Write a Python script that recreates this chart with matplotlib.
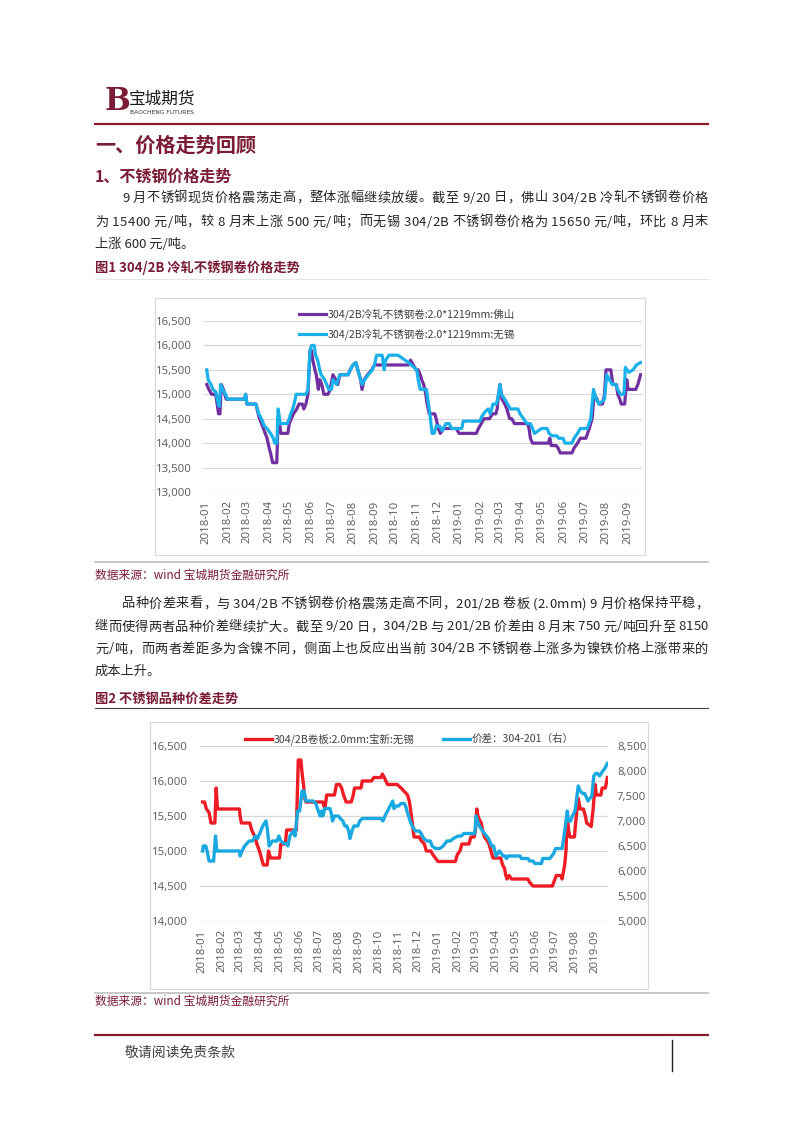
import numpy as np
import pandas as pd
import matplotlib
matplotlib.use("Agg")
import matplotlib.pyplot as plt
from matplotlib.lines import Line2D
from matplotlib.patches import Rectangle
from matplotlib.ticker import FuncFormatter
from matplotlib.font_manager import FontProperties

plt.rcParams["font.family"] = ["Noto Sans CJK SC", "DejaVu Sans"]

W, H = 802, 1133
MAROON = "#7A1C35"
LINE_RED = "#8B1C2C"
TEXT = "#262626"
TICK = "#595959"
GRID = "#D9D9D9"
PURPLE = "#7030A0"
CYAN = "#1AB0EA"
RED = "#EE1C25"
BLUE = "#1AA8E0"

# ---- figure 1: 304/2B cold rolled coil, Foshan vs Wuxi
fs_dates = ["2018-01-02", "2018-01-05", "2018-01-09", "2018-01-15", "2018-01-17", "2018-01-19",
            "2018-01-21", "2018-01-23", "2018-01-26", "2018-01-30", "2018-02-26", "2018-02-27",
            "2018-03-01", "2018-03-14", "2018-03-18", "2018-03-22", "2018-03-26", "2018-03-30",
            "2018-04-02", "2018-04-04", "2018-04-07", "2018-04-13", "2018-04-15", "2018-04-17",
            "2018-04-19", "2018-04-29", "2018-05-01", "2018-05-04", "2018-05-07", "2018-05-12",
            "2018-05-15", "2018-05-20", "2018-05-22", "2018-05-25", "2018-05-28", "2018-05-31",
            "2018-06-02", "2018-06-04", "2018-06-07", "2018-06-09", "2018-06-12", "2018-06-14",
            "2018-06-17", "2018-06-20", "2018-06-26", "2018-06-29", "2018-07-03", "2018-07-07",
            "2018-07-10", "2018-07-13", "2018-07-25", "2018-07-28", "2018-08-01", "2018-08-05",
            "2018-08-08", "2018-08-12", "2018-08-14", "2018-08-17", "2018-08-22", "2018-08-28",
            "2018-09-01", "2018-10-20", "2018-10-23", "2018-10-27", "2018-10-31", "2018-11-03",
            "2018-11-06", "2018-11-08", "2018-11-11", "2018-11-14", "2018-11-16", "2018-11-19",
            "2018-11-27", "2018-11-29", "2018-12-02", "2018-12-05", "2018-12-10", "2018-12-28",
            "2019-01-01", "2019-01-26", "2019-01-29", "2019-02-02", "2019-02-06", "2019-02-14",
            "2019-02-18", "2019-02-23", "2019-02-25", "2019-02-27", "2019-03-01", "2019-03-04",
            "2019-03-08", "2019-03-11", "2019-03-15", "2019-03-18", "2019-03-22", "2019-04-10",
            "2019-04-12", "2019-04-14", "2019-04-17", "2019-05-10", "2019-05-12", "2019-05-14",
            "2019-05-21", "2019-05-24", "2019-05-27", "2019-06-13", "2019-06-16", "2019-06-21",
            "2019-06-25", "2019-07-03", "2019-07-08", "2019-07-12", "2019-07-15", "2019-07-19",
            "2019-07-22", "2019-07-27", "2019-07-30", "2019-08-01", "2019-08-08", "2019-08-11",
            "2019-08-16", "2019-08-18", "2019-08-21", "2019-08-23", "2019-08-28", "2019-08-31",
            "2019-09-02", "2019-09-13", "2019-09-16", "2019-09-20"]
fs_vals = [15200, 15100, 15000, 15000, 14800, 14600,
           14600, 15200, 15100, 14900, 14900, 15000,
           14800, 14800, 14550, 14400, 14250, 14100,
           13900, 13800, 13600, 13600, 14500, 14400,
           14200, 14200, 14400, 14500, 14600, 14700,
           14800, 14800, 14700, 14800, 15000, 15900,
           15900, 15700, 15500, 15400, 15100, 15300,
           15200, 15000, 15000, 15100, 15400, 15300,
           15200, 15400, 15400, 15500, 15600, 15650,
           15500, 15300, 15100, 15300, 15400, 15500,
           15600, 15600, 15700, 15600, 15500, 15500,
           15400, 15300, 15200, 15000, 14800, 14600,
           14600, 14500, 14300, 14200, 14300, 14300,
           14200, 14200, 14300, 14400, 14500, 14500,
           14600, 14600, 14700, 15000, 15200, 14900,
           14800, 14700, 14500, 14500, 14400, 14400,
           14300, 14100, 14000, 14000, 14100, 13950,
           13950, 13900, 13800, 13800, 13900, 14000,
           14100, 14100, 14300, 14500, 15000, 14900,
           14800, 14800, 15000, 15500, 15500, 15200,
           15200, 15000, 14900, 14800, 14800, 15300,
           15100, 15100, 15200, 15400]

wx_dates = ["2018-01-02", "2018-01-04", "2018-01-08", "2018-01-11", "2018-01-15", "2018-01-18",
            "2018-01-20", "2018-01-22", "2018-01-25", "2018-01-29", "2018-02-01", "2018-02-26",
            "2018-02-27", "2018-03-01", "2018-03-14", "2018-03-18", "2018-03-22", "2018-03-26",
            "2018-03-30", "2018-04-04", "2018-04-08", "2018-04-10", "2018-04-13", "2018-04-15",
            "2018-04-18", "2018-04-28", "2018-05-01", "2018-05-03", "2018-05-06", "2018-05-08",
            "2018-05-11", "2018-05-25", "2018-05-28", "2018-05-31", "2018-06-02", "2018-06-06",
            "2018-06-08", "2018-06-11", "2018-06-14", "2018-06-16", "2018-06-21", "2018-06-27",
            "2018-07-01", "2018-07-03", "2018-07-08", "2018-07-13", "2018-07-25", "2018-07-28",
            "2018-08-01", "2018-08-05", "2018-08-08", "2018-08-12", "2018-08-14", "2018-08-18",
            "2018-08-23", "2018-08-29", "2018-09-01", "2018-09-04", "2018-09-12", "2018-09-15",
            "2018-09-17", "2018-09-22", "2018-10-05", "2018-10-10", "2018-10-15", "2018-10-20",
            "2018-10-24", "2018-10-28", "2018-11-01", "2018-11-03", "2018-11-06", "2018-11-15",
            "2018-11-17", "2018-11-20", "2018-11-23", "2018-11-26", "2018-11-29", "2018-12-04",
            "2018-12-08", "2018-12-13", "2018-12-18", "2018-12-21", "2019-01-05", "2019-01-07",
            "2019-01-31", "2019-02-03", "2019-02-08", "2019-02-12", "2019-02-15", "2019-02-19",
            "2019-02-24", "2019-02-27", "2019-03-01", "2019-03-03", "2019-03-08", "2019-03-12",
            "2019-03-16", "2019-03-27", "2019-03-30", "2019-04-04", "2019-04-09", "2019-04-14",
            "2019-04-17", "2019-04-20", "2019-04-25", "2019-04-30", "2019-05-08", "2019-05-11",
            "2019-05-15", "2019-05-22", "2019-05-25", "2019-05-31", "2019-06-03", "2019-06-13",
            "2019-06-16", "2019-06-21", "2019-06-25", "2019-07-05", "2019-07-10", "2019-07-14",
            "2019-07-18", "2019-07-22", "2019-07-30", "2019-08-02", "2019-08-06", "2019-08-10",
            "2019-08-15", "2019-08-18", "2019-08-22", "2019-08-27", "2019-08-29", "2019-09-03",
            "2019-09-09", "2019-09-14", "2019-09-20"]
wx_vals = [15500, 15300, 15200, 15100, 15050, 14850,
           14750, 15200, 15100, 15000, 14900, 14900,
           15000, 14800, 14800, 14600, 14500, 14350,
           14300, 14200, 14100, 14000, 14000, 14700,
           14400, 14400, 14500, 14600, 14700, 14800,
           15000, 15000, 15100, 15900, 16000, 16000,
           15800, 15700, 15500, 15400, 15300, 15100,
           15100, 15300, 15200, 15400, 15400, 15500,
           15600, 15650, 15500, 15300, 15200, 15300,
           15400, 15500, 15600, 15800, 15800, 15500,
           15700, 15800, 15800, 15750, 15700, 15650,
           15600, 15550, 15500, 15300, 15100, 15100,
           14900, 14600, 14200, 14200, 14350, 14350,
           14250, 14400, 14400, 14300, 14300, 14450,
           14450, 14550, 14650, 14700, 14600, 14800,
           14800, 15000, 15200, 15000, 14900, 14800,
           14700, 14700, 14600, 14500, 14400, 14400,
           14300, 14200, 14250, 14300, 14300, 14200,
           14150, 14150, 14100, 14100, 14000, 14000,
           14100, 14200, 14300, 14300, 14500, 15100,
           14900, 14800, 14900, 15400, 15300, 15200,
           15200, 15100, 15000, 15000, 15550, 15450,
           15500, 15600, 15650]

# ---- figure 2: 304/2B Baoxin Wuxi (left) and 304-201 spread (right)
bx_dates = ["2018-01-02", "2018-01-05", "2018-01-08", "2018-01-12", "2018-01-15", "2018-01-21",
            "2018-01-23", "2018-01-25", "2018-02-28", "2018-03-01", "2018-03-03", "2018-03-16",
            "2018-03-19", "2018-03-24", "2018-03-27", "2018-03-31", "2018-04-03", "2018-04-06",
            "2018-04-12", "2018-04-14", "2018-04-17", "2018-05-01", "2018-05-03", "2018-05-10",
            "2018-05-12", "2018-05-27", "2018-05-30", "2018-06-03", "2018-06-05", "2018-06-07",
            "2018-06-09", "2018-06-11", "2018-07-07", "2018-07-10", "2018-07-13", "2018-07-25",
            "2018-07-28", "2018-08-02", "2018-08-05", "2018-08-08", "2018-08-12", "2018-08-20",
            "2018-08-23", "2018-08-25", "2018-09-04", "2018-09-06", "2018-09-20", "2018-09-24",
            "2018-10-05", "2018-10-07", "2018-10-10", "2018-10-15", "2018-10-30", "2018-11-05",
            "2018-11-10", "2018-11-15", "2018-11-18", "2018-11-21", "2018-11-25", "2018-12-03",
            "2018-12-06", "2018-12-11", "2018-12-14", "2018-12-21", "2018-12-24", "2018-12-28",
            "2019-01-01", "2019-01-28", "2019-01-31", "2019-02-04", "2019-02-07", "2019-02-18",
            "2019-02-21", "2019-02-26", "2019-02-28", "2019-03-02", "2019-03-04", "2019-03-06",
            "2019-03-09", "2019-03-11", "2019-03-14", "2019-03-18", "2019-03-21", "2019-03-24",
            "2019-03-27", "2019-04-08", "2019-04-11", "2019-04-14", "2019-04-16", "2019-04-18",
            "2019-04-21", "2019-04-25", "2019-05-20", "2019-05-23", "2019-05-28", "2019-06-27",
            "2019-06-29", "2019-07-01", "2019-07-03", "2019-07-10", "2019-07-12", "2019-07-14",
            "2019-07-16", "2019-07-18", "2019-07-20", "2019-07-22", "2019-07-24", "2019-07-31",
            "2019-08-03", "2019-08-06", "2019-08-09", "2019-08-14", "2019-08-17", "2019-08-19",
            "2019-08-26", "2019-08-29", "2019-09-01", "2019-09-03", "2019-09-10", "2019-09-12",
            "2019-09-17", "2019-09-20"]
bx_vals = [15700, 15700, 15600, 15550, 15400, 15400,
           15900, 15600, 15600, 15500, 15400, 15400,
           15300, 15200, 15100, 15000, 14900, 14800,
           14800, 15000, 14900, 14900, 15100, 15100,
           15300, 15300, 16300, 16300, 16100, 15950,
           15750, 15700, 15700, 15600, 15800, 15800,
           15950, 15950, 15900, 15800, 15700, 15700,
           15800, 15900, 15900, 16000, 16000, 16050,
           16050, 16100, 16050, 15950, 15950, 15900,
           15850, 15800, 15700, 15500, 15200, 15200,
           15150, 15100, 15000, 15000, 14950, 14900,
           14850, 14850, 14950, 15000, 15100, 15100,
           15200, 15200, 15300, 15600, 15500, 15450,
           15400, 15300, 15200, 15150, 15100, 15000,
           14900, 14900, 14800, 14750, 14650, 14600,
           14650, 14600, 14600, 14550, 14500, 14500,
           14550, 14600, 14650, 14650, 14600, 14700,
           14800, 15000, 15500, 15300, 15200, 15200,
           15500, 15750, 15600, 15600, 15500, 15400,
           15350, 15600, 15950, 15800, 15800, 15900,
           15900, 16050]

sp_dates = ["2018-01-02", "2018-01-03", "2018-01-07", "2018-01-09", "2018-01-12", "2018-01-19",
            "2018-01-22", "2018-01-24", "2018-02-28", "2018-03-01", "2018-03-04", "2018-03-08",
            "2018-03-15", "2018-03-20", "2018-03-25", "2018-03-28", "2018-04-02", "2018-04-05",
            "2018-04-10", "2018-04-12", "2018-04-15", "2018-04-20", "2018-04-27", "2018-04-30",
            "2018-05-03", "2018-05-08", "2018-05-11", "2018-05-14", "2018-05-17", "2018-05-22",
            "2018-05-25", "2018-05-29", "2018-06-01", "2018-06-05", "2018-06-07", "2018-06-08",
            "2018-06-11", "2018-06-22", "2018-06-26", "2018-06-30", "2018-07-03", "2018-07-05",
            "2018-07-07", "2018-07-10", "2018-07-18", "2018-07-20", "2018-07-22", "2018-07-25",
            "2018-07-31", "2018-08-03", "2018-08-07", "2018-08-10", "2018-08-13", "2018-08-16",
            "2018-08-18", "2018-08-21", "2018-08-24", "2018-08-30", "2018-09-02", "2018-09-06",
            "2018-10-05", "2018-10-08", "2018-10-11", "2018-10-15", "2018-10-19", "2018-10-23",
            "2018-10-25", "2018-10-28", "2018-11-01", "2018-11-05", "2018-11-10", "2018-11-12",
            "2018-11-14", "2018-11-19", "2018-11-22", "2018-11-27", "2018-12-03", "2018-12-06",
            "2018-12-10", "2018-12-15", "2018-12-20", "2018-12-23", "2018-12-28", "2019-01-04",
            "2019-01-09", "2019-01-15", "2019-01-20", "2019-01-25", "2019-02-01", "2019-02-06",
            "2019-02-10", "2019-02-27", "2019-03-01", "2019-03-03", "2019-03-06", "2019-03-11",
            "2019-03-14", "2019-03-20", "2019-03-25", "2019-03-28", "2019-04-01", "2019-04-06",
            "2019-04-12", "2019-04-15", "2019-04-17", "2019-04-20", "2019-05-08", "2019-05-10",
            "2019-05-20", "2019-05-23", "2019-05-28", "2019-05-31", "2019-06-10", "2019-06-12",
            "2019-06-23", "2019-06-26", "2019-06-29", "2019-07-02", "2019-07-12", "2019-07-15",
            "2019-07-20", "2019-07-22", "2019-07-25", "2019-07-28", "2019-08-01", "2019-08-06",
            "2019-08-09", "2019-08-13", "2019-08-16", "2019-08-21", "2019-08-24", "2019-08-27",
            "2019-08-30", "2019-09-02", "2019-09-05", "2019-09-08", "2019-09-13", "2019-09-16",
            "2019-09-20"]
sp_vals = [6400, 6500, 6500, 6400, 6200, 6200,
           6700, 6400, 6400, 6300, 6400, 6500,
           6600, 6600, 6700, 6650, 6800, 6900,
           7000, 6850, 6500, 6600, 6600, 6700,
           6600, 6550, 6550, 6500, 6700, 6800,
           6700, 7200, 7200, 7600, 7500, 7600,
           7400, 7400, 7350, 7200, 7100, 7200,
           7100, 7250, 7250, 7150, 7000, 7100,
           7100, 7050, 7000, 6900, 6900, 6800,
           6650, 6800, 6900, 6900, 7000, 7050,
           7050, 7000, 7100, 7200, 7300, 7400,
           7250, 7300, 7300, 7350, 7350, 7300,
           7200, 7000, 6900, 6800, 6800, 6750,
           6650, 6600, 6600, 6500, 6450, 6450,
           6500, 6600, 6600, 6650, 6700, 6700,
           6750, 6750, 7100, 7000, 6900, 6800,
           6750, 6650, 6500, 6500, 6300, 6400,
           6300, 6300, 6250, 6300, 6300, 6250,
           6250, 6200, 6200, 6150, 6150, 6250,
           6250, 6300, 6350, 6450, 6450, 6700,
           7200, 7000, 7000, 7100, 7200, 7700,
           7600, 7550, 7550, 7400, 7450, 7500,
           7900, 7950, 7950, 7900, 8000, 8050,
           8150]

p1_lines = ["9 月不锈钢现货价格震荡走高，整体涨幅继续放缓。截至 9/20 日，佛山 304/2B 冷轧不锈钢卷价格",
            "为 15400 元/吨，较 8 月末上涨 500 元/吨；而无锡 304/2B 不锈钢卷价格为 15650 元/吨，环比 8 月末",
            "上涨 600 元/吨。"]
p2_lines = ["品种价差来看，与 304/2B 不锈钢卷价格震荡走高不同，201/2B 卷板 (2.0mm) 9 月价格保持平稳，",
            "继而使得两者品种价差继续扩大。截至 9/20 日，304/2B 与 201/2B 价差由 8 月末 750 元/吨回升至 8150",
            "元/吨，而两者差距多为含镍不同，侧面上也反应出当前 304/2B 不锈钢卷上涨多为镍铁价格上涨带来的",
            "成本上升。"]

fig = plt.figure(figsize=(W / 100, H / 100), dpi=100)
renderer = fig.canvas.get_renderer()


def fx(x):
    return x / W


def fy(y):
    return 1 - y / H


def hline(x0, x1, y, color, lw):
    fig.add_artist(Line2D([fx(x0), fx(x1)], [fy(y), fy(y)], color=color, lw=lw,
                          transform=fig.transFigure))


def ptext(x, y, s, **kw):
    kw.setdefault("va", "center")
    return fig.text(fx(x), fy(y), s, **kw)


def text_w(s, prop):
    return renderer.get_text_width_height_descent(s, prop, ismath=False)[0]


# justified line: spread the spare room evenly between characters
def justify(s, x0, x1, y, size, color):
    prop = FontProperties(family="Noto Sans CJK SC", size=size)
    ref = text_w("国", prop)
    pos = [text_w(s[:i] + "国", prop) - ref for i in range(len(s))]
    full = text_w(s, prop)
    extra = (x1 - x0) - full
    step = extra / (len(s) - 1) if len(s) > 1 else 0
    for i, ch in enumerate(s):
        if ch == " ":
            continue
        ptext(x0 + pos[i] + i * step, y, ch, fontsize=size, color=color, ha="left")


# ---- page header
ptext(105, 101, "B", fontsize=22, color=MAROON, fontweight="bold", family="DejaVu Serif", ha="left")
ptext(129, 99, "宝城期货", fontsize=12, color="#1a1a1a", ha="left")
ptext(130, 113, "BAOCHENG FUTURES", fontsize=4.3, color="#333333", ha="left", family="DejaVu Sans")
hline(95, 708, 124, LINE_RED, 1.6)

ptext(95, 145, "一、价格走势回顾", fontsize=14.5, color=MAROON, fontweight="bold", ha="left")
ptext(95, 177, "1、不锈钢价格走势", fontsize=11.5, color=MAROON, fontweight="bold", ha="left")

BODY = 9.5
justify(p1_lines[0], 122, 708, 198, BODY, TEXT)
justify(p1_lines[1], 95, 708, 222, BODY, TEXT)
ptext(95, 244, p1_lines[2], fontsize=BODY, color=TEXT, ha="left")

ptext(95, 268, "图1 304/2B 冷轧不锈钢卷价格走势", fontsize=9.5, color=MAROON, fontweight="bold", ha="left")
hline(95, 708, 279, "#E0E0E0", 0.6)

# ---- chart 1
fig.add_artist(Rectangle((fx(155), fy(555)), (645 - 155) / W, (555 - 298) / H, fill=False,
                         ec="#D9D9D9", lw=0.9, transform=fig.transFigure))
months = pd.date_range("2018-01-01", "2019-09-01", freq="MS")
thousands = FuncFormatter(lambda v, p: f"{int(v):,}")
TICK_SIZE = 8.2


def style_axes(ax, ypad):
    for s in ax.spines.values():
        s.set_visible(False)
    ax.set_xticks(months)
    ax.set_xticklabels([m.strftime("%Y-%m") for m in months], rotation=90)
    ax.tick_params(length=0, labelsize=TICK_SIZE, labelcolor=TICK)
    ax.tick_params(axis="x", pad=6.0)
    ax.tick_params(axis="y", pad=ypad)
    ax.yaxis.set_major_formatter(thousands)
    plt.setp(ax.get_xticklabels() + ax.get_yticklabels(), family="Open Sans")


ax1 = fig.add_axes([fx(204), fy(492), (642 - 204) / W, (492 - 321) / H])
ax1.plot(pd.to_datetime(fs_dates), fs_vals, color=PURPLE, lw=2.3)
ax1.plot(pd.to_datetime(wx_dates), wx_vals, color=CYAN, lw=2.3)
ax1.set_xlim(pd.Timestamp("2017-12-29"), pd.Timestamp("2019-09-22"))
ax1.set_ylim(13000, 16500)
ax1.set_yticks(np.arange(13000, 16501, 500))
ax1.grid(axis="y", color=GRID, lw=0.9)
ax1.grid(axis="x", visible=False)
ax1.set_axisbelow(True)
style_axes(ax1, 9.0)

for yy, col, lab in [(314, PURPLE, "304/2B冷轧不锈钢卷:2.0*1219mm:佛山"),
                     (334, CYAN, "304/2B冷轧不锈钢卷:2.0*1219mm:无锡")]:
    hline(299, 326, yy, col, 2.3)
    ptext(328, yy, lab, fontsize=7.6, color="#404040", ha="left")

hline(95, 708, 562, "#BFBFBF", 1.2)
ptext(95, 575, "数据来源：wind 宝城期货金融研究所", fontsize=8.5, color=MAROON, ha="left")

justify(p2_lines[0], 122, 708, 604, BODY, TEXT)
justify(p2_lines[1], 95, 708, 627, BODY, TEXT)
justify(p2_lines[2], 95, 708, 649, BODY, TEXT)
ptext(95, 671, p2_lines[3], fontsize=BODY, color=TEXT, ha="left")

ptext(95, 699, "图2 不锈钢品种价差走势", fontsize=9.5, color=MAROON, fontweight="bold", ha="left")
hline(95, 708, 708, "#404040", 0.8)

# ---- chart 2
fig.add_artist(Rectangle((fx(150), fy(989)), (648 - 150) / W, (989 - 722) / H, fill=False,
                         ec="#D9D9D9", lw=0.9, transform=fig.transFigure))
ax2 = fig.add_axes([fx(200), fy(921), (608 - 200) / W, (921 - 746) / H])
ax2.plot(pd.to_datetime(bx_dates), bx_vals, color=RED, lw=2.4)
ax2.set_xlim(pd.Timestamp("2017-12-29"), pd.Timestamp("2019-09-21"))
ax2.set_ylim(14000, 16500)
ax2.set_yticks(np.arange(14000, 16501, 500))
ax2.grid(axis="y", color=GRID, lw=0.9)
ax2.grid(axis="x", visible=False)
ax2.set_axisbelow(True)
style_axes(ax2, 9.0)

ax2r = ax2.twinx()
ax2r.plot(pd.to_datetime(sp_dates), sp_vals, color=BLUE, lw=2.4)
ax2r.set_ylim(5000, 8500)
ax2r.set_yticks(np.arange(5000, 8501, 500))
ax2r.set_xlim(pd.Timestamp("2017-12-29"), pd.Timestamp("2019-09-21"))
for s in ax2r.spines.values():
    s.set_visible(False)
ax2r.tick_params(length=0, labelsize=TICK_SIZE, labelcolor=TICK, pad=6.5)
ax2r.yaxis.set_major_formatter(thousands)
plt.setp(ax2r.get_yticklabels(), family="Open Sans")

hline(245, 272, 739, RED, 2.4)
ptext(274, 739, "304/2B卷板:2.0mm:宝新:无锡", fontsize=7.6, color="#404040", ha="left")
hline(443, 470, 739, BLUE, 2.4)
ptext(472, 739, "价差：304-201（右）", fontsize=7.6, color="#404040", ha="left")

hline(95, 708, 993, "#BFBFBF", 1.2)
ptext(95, 1001, "数据来源：wind 宝城期货金融研究所", fontsize=8.5, color=MAROON, ha="left")

# ---- footer
hline(95, 708, 1035, LINE_RED, 1.6)
ptext(125, 1053, "敬请阅读免责条款", fontsize=10, color="#404040", ha="left")
fig.add_artist(Line2D([fx(672), fx(672)], [fy(1040), fy(1071)], color="#222222", lw=1.0,
                      transform=fig.transFigure))

fig.savefig("out.png", dpi=100)
